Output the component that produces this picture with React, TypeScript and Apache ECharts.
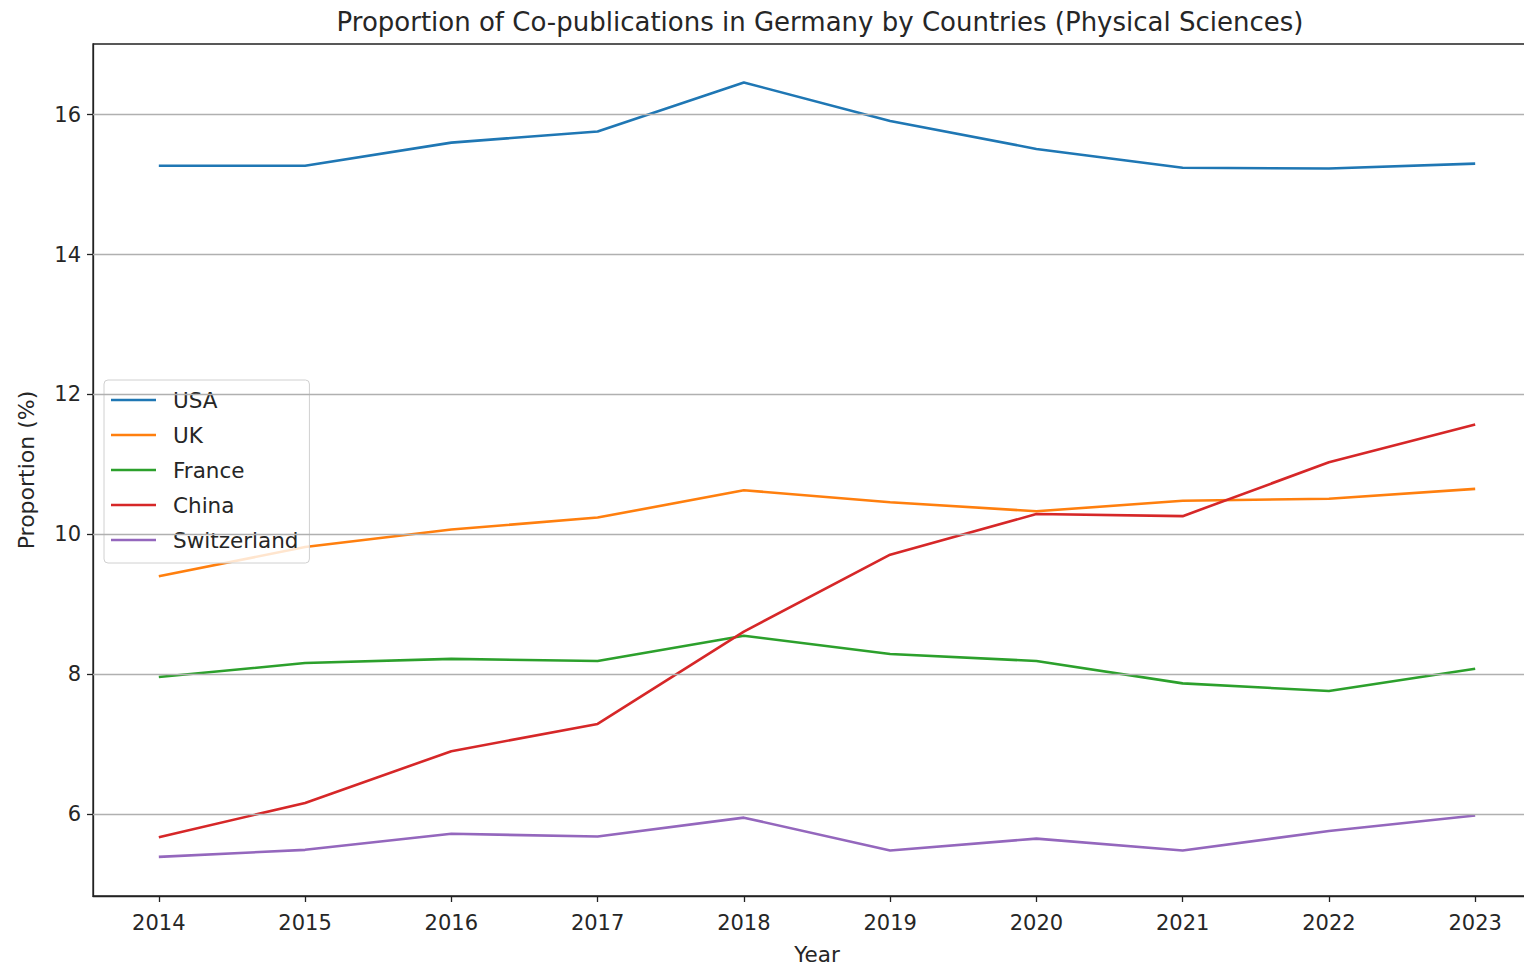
import React, { useEffect, useRef } from "react";
import * as echarts from "echarts";

const years = [2014, 2015, 2016, 2017, 2018, 2019, 2020, 2021, 2022, 2023];
const usa = [15.27, 15.27, 15.6, 15.76, 16.46, 15.91, 15.51, 15.24, 15.23, 15.3];
const uk = [9.4, 9.82, 10.07, 10.24, 10.63, 10.46, 10.33, 10.48, 10.51, 10.65];
const france = [7.96, 8.16, 8.22, 8.19, 8.55, 8.29, 8.19, 7.87, 7.76, 8.08];
const china = [5.67, 6.16, 6.9, 7.29, 8.61, 9.71, 10.29, 10.26, 11.03, 11.57];
const switzerland = [5.39, 5.49, 5.72, 5.68, 5.95, 5.48, 5.65, 5.48, 5.76, 5.98];
const yTicks = [6, 8, 10, 12, 14, 16];

const seriesDefs = [
  { name: "USA", values: usa, color: "#1f77b4" },
  { name: "UK", values: uk, color: "#ff7f0e" },
  { name: "France", values: france, color: "#2ca02c" },
  { name: "China", values: china, color: "#d62728" },
  { name: "Switzerland", values: switzerland, color: "#9467bd" },
];

const FONT = "DejaVu Sans";
const TXT = "#262626";

export default function App() {
  const ref = useRef<HTMLDivElement>(null);
  useEffect(() => {
    if (!ref.current) return;
    const chart = echarts.init(ref.current, null, { renderer: "svg" });
    chart.setOption({
      animation: false,
      backgroundColor: "#fff",
      title: {
        text: "Proportion of Co-publications in Germany by Countries (Physical Sciences)",
        left: 815,
        textAlign: "center",
        top: 4,
        textStyle: { fontFamily: FONT, fontSize: 26, fontWeight: "normal", color: TXT },
      },
      grid: {
        left: 93,
        top: 44,
        right: 19,
        bottom: 71,
        show: true,
        borderColor: "#222",
        borderWidth: 1.3,
        backgroundColor: "transparent",
      },
      legend: {
        orient: "vertical",
        left: 104,
        top: 380,
        data: seriesDefs.map((s) => s.name),
        icon: "rect",
        itemWidth: 45,
        itemHeight: 2.5,
        itemGap: 11,
        padding: [8, 11, 11, 7],
        borderColor: "#d0d0d0",
        borderWidth: 1,
        borderRadius: 4,
        backgroundColor: "rgba(255,255,255,0.8)",
        textStyle: { fontFamily: FONT, fontSize: 21.5, color: TXT, lineHeight: 24, padding: [0, 0, 0, 12] },
      },
      xAxis: {
        type: "value",
        min: 2013.55,
        max: 2023.45,
        name: "Year",
        nameLocation: "middle",
        nameGap: 47,
        nameTextStyle: { fontFamily: FONT, fontSize: 21.5, color: TXT },
        axisLine: { show: true, lineStyle: { color: "#222", width: 1.3 } },
        axisTick: { show: true, length: 6, customValues: years, lineStyle: { color: "#222", width: 1.3 } },
        axisLabel: {
          customValues: years,
          formatter: (v: number) => String(Math.round(v)),
          fontFamily: FONT,
          fontSize: 21,
          color: TXT,
          margin: 16,
        },
        splitLine: { show: false },
      },
      yAxis: {
        type: "value",
        min: 4.83,
        max: 17.01,
        name: "Proportion (%)",
        nameLocation: "middle",
        nameGap: 56,
        nameTextStyle: { fontFamily: FONT, fontSize: 22, color: TXT },
        axisLine: { show: true, lineStyle: { color: "#222", width: 1.3 } },
        axisTick: { show: true, length: 6, customValues: yTicks, lineStyle: { color: "#222", width: 1.3 } },
        axisLabel: {
          customValues: yTicks,
          formatter: (v: number) => String(Math.round(v)),
          fontFamily: FONT,
          fontSize: 21,
          color: TXT,
          margin: 12,
        },
        splitLine: { show: false },
      },
      series: [
        {
          name: "grid",
          type: "line",
          data: [],
          z: 1,
          silent: true,
          markLine: {
            silent: true,
            symbol: ["none", "none"],
            label: { show: false },
            lineStyle: { color: "#b0b0b0", type: "solid", width: 1.3 },
            data: yTicks.map((v) => ({ yAxis: v })),
          },
        },
        ...seriesDefs.map((s) => ({
          name: s.name,
          type: "line",
          z: 3,
          showSymbol: false,
          symbol: "none",
          color: s.color,
          lineStyle: { color: s.color, width: 2.6 },
          data: years.map((y, i) => [y, s.values[i]]),
        })),
      ],
    });
    return () => chart.dispose();
  }, []);
  return (
    <div
      style={{
        position: "fixed",
        left: 0,
        top: 0,
        width: 1524,
        height: 970,
        overflow: "hidden",
        background: "#fff",
      }}
    >
      <div ref={ref} style={{ width: 1560, height: 970 }} />
    </div>
  );
}
